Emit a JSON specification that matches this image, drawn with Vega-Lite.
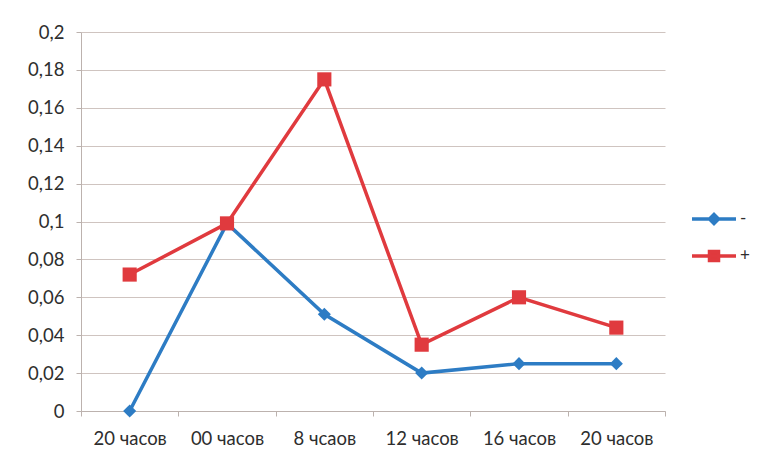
{
  "$schema": "https://vega.github.io/schema/vega-lite/v6.json",
  "autosize": "none",
  "width": 584,
  "height": 379,
  "padding": {"left": 81, "top": 32, "right": 93, "bottom": 46},
  "background": "white",
  "config": {
    "view": {"stroke": null},
    "font": "Lato",
    "axis": {
      "labelFont": "Lato",
      "labelFontSize": 18.5,
      "labelColor": "#2e2e2e",
      "domainColor": "#bcb2ae",
      "tickColor": "#bcb2ae",
      "gridColor": "#cfc4c0",
      "title": null
    }
  },
  "data": {
    "values": [
      {"slot": 0, "series": "-", "value": 0.0},
      {"slot": 1, "series": "-", "value": 0.099},
      {"slot": 2, "series": "-", "value": 0.051},
      {"slot": 3, "series": "-", "value": 0.02},
      {"slot": 4, "series": "-", "value": 0.025},
      {"slot": 5, "series": "-", "value": 0.025},
      {"slot": 0, "series": "+", "value": 0.072},
      {"slot": 1, "series": "+", "value": 0.099},
      {"slot": 2, "series": "+", "value": 0.175},
      {"slot": 3, "series": "+", "value": 0.035},
      {"slot": 4, "series": "+", "value": 0.06},
      {"slot": 5, "series": "+", "value": 0.044}
    ]
  },
  "encoding": {
    "x": {
      "field": "slot",
      "type": "ordinal",
      "scale": {"paddingInner": 0, "paddingOuter": 0},
      "axis": {
        "labelAngle": 0,
        "labelPadding": 13,
        "tickBand": "extent",
        "tickSize": 5,
        "labelExpr": "['20 часов', '00 часов', '8 чсаов', '12 часов', '16 часов', '20 часов'][datum.value]"
      }
    },
    "y": {
      "field": "value",
      "type": "quantitative",
      "scale": {"domain": [0, 0.2], "nice": false},
      "axis": {
        "values": [0, 0.02, 0.04, 0.06, 0.08, 0.1, 0.12, 0.14, 0.16, 0.18, 0.2],
        "labelExpr": "replace(format(datum.value, '~g'), '.', ',')",
        "domain": true,
        "tickSize": 5,
        "labelPadding": 12
      }
    },
    "color": {
      "field": "series",
      "type": "nominal",
      "scale": {"domain": ["-", "+"], "range": ["#2d7cc4", "#e03a3e"]},
      "legend": {
        "title": null,
        "orient": "none",
        "legendX": 621,
        "legendY": 175,
        "rowPadding": 13,
        "labelFont": "Lato",
        "labelFontSize": 17,
        "labelColor": "#2e2e2e",
        "labelOffset": 14,
        "symbolSize": 400,
        "encode": {
          "symbols": {
            "update": {
              "shape": {"signal": "datum.value === '-' ? 'M-2.2,0H2.2M0,-0.45L0.45,0L0,0.45L-0.45,0Z' : 'M-2.2,0H2.2M-0.45,-0.45H0.45V0.45H-0.45Z'"},
              "stroke": {"signal": "datum.value === '-' ? '#2d7cc4' : '#e03a3e'"},
              "fill": {"signal": "datum.value === '-' ? '#2d7cc4' : '#e03a3e'"},
              "strokeWidth": {"value": 3.5},
              "opacity": {"value": 1}
            }
          }
        }
      }
    }
  },
  "layer": [
    {
      "mark": {"type": "line", "strokeWidth": 3.5}
    },
    {
      "transform": [{"filter": "datum.series === '-'"}],
      "mark": {"type": "point", "filled": true, "opacity": 1, "shape": "diamond", "size": 170}
    },
    {
      "transform": [{"filter": "datum.series === '+'"}],
      "mark": {"type": "point", "filled": true, "opacity": 1, "shape": "square", "size": 200}
    }
  ]
}
